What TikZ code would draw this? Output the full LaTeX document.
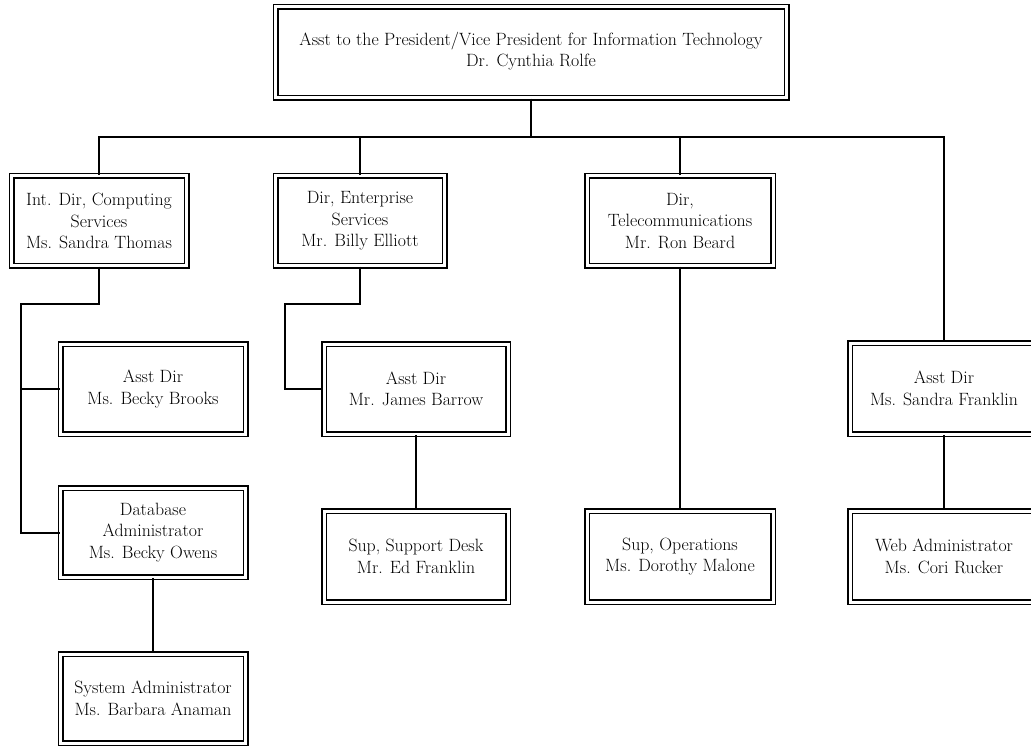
\documentclass[tikz,border=0pt]{standalone}
\begin{document}
\begin{tikzpicture}[x=1pt,y=-1pt,
  box/.style={draw=black, double=white, double distance=3pt, line width=1.5pt,
    align=center, inner sep=0pt, text=black,
    font=\fontsize{17.8}{21.5}\selectfont},
  conn/.style={draw=black, line width=2pt}]
\useasboundingbox (0,0) rectangle (1031,746);
\clip (0,0) rectangle (1031,746);
% nodes
\node[box, minimum width=511pt, minimum height=91pt] (top) at (531,52.5)
  {\raisebox{7pt}{\shortstack{Asst to the President/Vice President for Information Technology\\[1pt] Dr. Cynthia Rolfe}}};
\node[box, minimum width=175pt, minimum height=90pt] (A) at (99,221)
  {Int. Dir, Computing\\Services\\Ms. Sandra Thomas};
\node[box, minimum width=169pt, minimum height=90pt] (B) at (360,221)
  {Dir, Enterprise\\Services\\Mr. Billy Elliott};
\node[box, minimum width=186pt, minimum height=90pt] (C) at (680,221)
  {Dir,\\Telecommunications\\Mr. Ron Beard};
\node[box, minimum width=188pt, minimum height=91pt] (D) at (944,388.5)
  {Asst Dir\\Ms. Sandra Franklin};
\node[box, minimum width=185pt, minimum height=90pt] (BB) at (153,389)
  {Asst Dir\\Ms. Becky Brooks};
\node[box, minimum width=185pt, minimum height=89pt] (DB) at (153,532.5)
  {Database\\Administrator\\Ms. Becky Owens};
\node[box, minimum width=185pt, minimum height=89pt] (SA) at (153,698.5)
  {System Administrator\\Ms. Barbara Anaman};
\node[box, minimum width=184pt, minimum height=90pt] (JB) at (416,389)
  {Asst Dir\\Mr. James Barrow};
\node[box, minimum width=184pt, minimum height=91pt] (SD) at (416,556.5)
  {Sup, Support Desk\\Mr. Ed Franklin};
\node[box, minimum width=186pt, minimum height=91pt] (OP) at (680,556.5)
  {Sup, Operations\\Ms. Dorothy Malone};
\node[box, minimum width=188pt, minimum height=91pt] (W) at (944,556.5)
  {Web Administrator\\Ms. Cori Rucker};
% junction coordinates
\coordinate (bus) at (0,137);
\coordinate (ja) at (21,304);
\coordinate (jb) at (285,304);
% connectors
\draw[conn] (top.south) -- (top.south |- bus);
\draw[conn] (A.north) -- (A.north |- bus) -- (D.north |- bus) -- (D.north);
\draw[conn] (B.north) -- (B.north |- bus);
\draw[conn] (C.north) -- (C.north |- bus);
\draw[conn] (A.south) -- (A.south |- ja) -- (ja) -- (ja |- DB.west) -- (DB.west);
\draw[conn] (ja |- BB.west) -- (BB.west);
\draw[conn] (B.south) -- (B.south |- jb) -- (jb) -- (jb |- JB.west) -- (JB.west);
\draw[conn] (DB.south) -- (SA.north);
\draw[conn] (JB.south) -- (SD.north);
\draw[conn] (C.south) -- (OP.north);
\draw[conn] (D.south) -- (W.north);
\end{tikzpicture}
\end{document}
